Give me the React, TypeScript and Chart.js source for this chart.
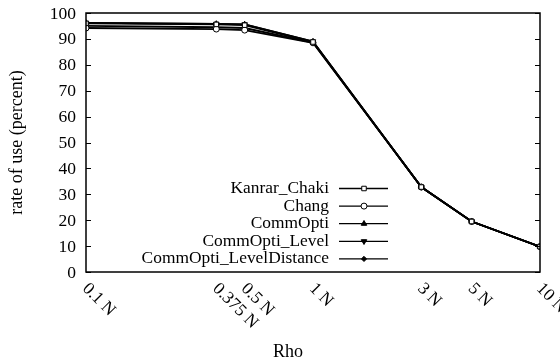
import { useEffect, useRef } from "react";
import { Chart, registerables } from "chart.js";
import { drawPoint } from "chart.js/helpers";

Chart.register(...registerables);

// Rho values (multiples of N) on a log axis
const rhoValues = [0.1, 0.375, 0.5, 1, 3, 5, 10];
const rhoLabels = ["0.1 N", "0.375 N", "0.5 N", "1 N", "3 N", "5 N", "10 N"];
const yTicks = [0, 10, 20, 30, 40, 50, 60, 70, 80, 90, 100];

// rate of use (percent) per algorithm
const kanrarChaki = [96.0, 95.6, 95.3, 88.8, 32.8, 19.5, 9.8];
const chang = [94.2, 93.8, 93.4, 88.5, 32.8, 19.5, 9.8];
const commOpti = [96.2, 95.8, 95.6, 89.0, 32.8, 19.5, 9.8];
const commOptiLevel = [96.2, 95.8, 95.6, 89.0, 32.8, 19.5, 9.8];
const commOptiLevelDistance = [95.0, 94.5, 94.2, 88.6, 32.8, 19.5, 9.8];

const seriesNames = ["Kanrar_Chaki", "Chang", "CommOpti", "CommOpti_Level", "CommOpti_LevelDistance"];
const seriesValues = [kanrarChaki, chang, commOpti, commOptiLevel, commOptiLevelDistance];

const FONT = "Liberation Serif";

type Marker = { style: string; rotation: number; radius: number; fill: string };
const markers: Marker[] = [
  { style: "rect", rotation: 0, radius: 3.2, fill: "#fff" },
  { style: "circle", rotation: 0, radius: 3, fill: "#fff" },
  { style: "triangle", rotation: 0, radius: 3.2, fill: "#000" },
  { style: "triangle", rotation: 180, radius: 3.2, fill: "#000" },
  { style: "rectRot", rotation: 0, radius: 2.6, fill: "#000" },
];

const gnuplotFrame = {
  id: "gnuplotFrame",
  afterDatasetsDraw(chart: any) {
    const { ctx, chartArea: a, scales } = chart;
    const xs = scales.x;
    const ys = scales.y;
    ctx.save();

    // border
    ctx.strokeStyle = "#000";
    ctx.lineWidth = 1.5;
    ctx.strokeRect(a.left, a.top, a.right - a.left, a.bottom - a.top);

    // y tick labels and inward tick marks on both sides
    ctx.fillStyle = "#000";
    ctx.font = `17.5px "${FONT}"`;
    ctx.textAlign = "right";
    ctx.textBaseline = "middle";
    ctx.lineWidth = 1;
    ctx.beginPath();
    for (const v of yTicks) {
      const yp = ys.getPixelForValue(v);
      ctx.fillText(String(v), a.left - 10, yp + 1);
      const y = Math.round(yp) + 0.5;
      ctx.moveTo(a.left, y);
      ctx.lineTo(a.left + 5, y);
      ctx.moveTo(a.right, y);
      ctx.lineTo(a.right - 5, y);
    }
    ctx.stroke();

    // rotated x tick labels
    ctx.font = `17.5px "${FONT}"`;
    ctx.textAlign = "left";
    ctx.textBaseline = "middle";
    rhoValues.forEach((v, i) => {
      const x = xs.getPixelForValue(v);
      ctx.save();
      ctx.translate(x - 1, a.bottom + 14);
      ctx.rotate(Math.PI / 4);
      ctx.fillText(rhoLabels[i], 0, 0);
      ctx.restore();
    });

    // axis titles
    ctx.textAlign = "center";
    ctx.font = `18px "${FONT}"`;
    ctx.fillText("Rho", 288, 352);
    ctx.save();
    ctx.translate(17, (a.top + a.bottom) / 2);
    ctx.rotate(-Math.PI / 2);
    ctx.fillText("rate of use (percent)", 0, 0);
    ctx.restore();

    // key
    ctx.font = `17.4px "${FONT}"`;
    ctx.textAlign = "right";
    seriesNames.forEach((name, i) => {
      const y = 188.5 + i * 17.6;
      ctx.fillStyle = "#000";
      ctx.fillText(name, 329, y);
      ctx.lineWidth = 1.3;
      ctx.beginPath();
      ctx.moveTo(339, y);
      ctx.lineTo(388, y);
      ctx.stroke();
      const m = markers[i];
      ctx.fillStyle = m.fill;
      ctx.lineWidth = 1;
      drawPoint(ctx, { pointStyle: m.style as any, rotation: m.rotation, radius: m.radius, borderWidth: 1 }, 364, y);
    });

    ctx.restore();
  },
};

export default function App() {
  const canvasRef = useRef<HTMLCanvasElement | null>(null);

  useEffect(() => {
    const canvas = canvasRef.current;
    if (!canvas) return;
    const chart = new Chart(canvas, {
      type: "line",
      data: {
        datasets: seriesNames.map((name, i) => ({
          label: name,
          data: rhoValues.map((x, j) => ({ x, y: seriesValues[i][j] })),
          borderColor: "#000",
          borderWidth: 1.8,
          pointStyle: markers[i].style as any,
          pointRotation: markers[i].rotation,
          pointRadius: markers[i].radius,
          pointBackgroundColor: markers[i].fill,
          pointBorderColor: "#000",
          pointBorderWidth: 1,
          tension: 0,
          fill: false,
        })),
      },
      options: {
        animation: false,
        responsive: false,
        devicePixelRatio: 1,
        layout: { padding: { left: 86, top: 13, right: 20, bottom: 91 } },
        plugins: {
          legend: { display: false },
          tooltip: { enabled: false },
        },
        scales: {
          x: {
            type: "logarithmic",
            min: 0.1,
            max: 10,
            display: false,
          },
          y: {
            min: 0,
            max: 100,
            display: false,
          },
        },
      },
      plugins: [gnuplotFrame],
    });
    return () => chart.destroy();
  }, []);

  return (
    <div style={{ position: "absolute", left: 0, top: 0, width: 560, height: 363, background: "#fff" }}>
      <canvas ref={canvasRef} width={560} height={363} />
    </div>
  );
}
